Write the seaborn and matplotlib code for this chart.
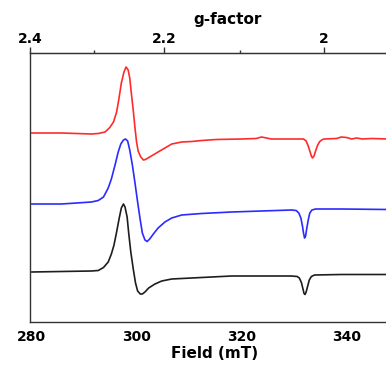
import numpy as np
import pandas as pd
import matplotlib
matplotlib.use("Agg")
import matplotlib.pyplot as plt
import seaborn as sns
from matplotlib.ticker import FixedLocator, FuncFormatter

# EPR spectra (field in mT, intensity in a.u., stacked)
field_red = [280.0, 285.7, 291.4, 292.7, 294.0, 294.9, 295.6, 296.2, 296.6, 297.1,
             297.6, 298.0, 298.4, 298.7, 299.0, 299.4, 299.7, 300.0, 300.3, 300.8,
             301.3, 301.7, 302.5, 304.1, 305.4, 306.7, 308.6, 310.5, 312.4, 315.2,
             320.0, 322.8, 323.8, 325.7, 329.5, 331.8, 332.3, 332.7, 333.0, 333.3,
             333.5, 333.8, 334.1, 334.5, 334.9, 335.4, 335.8, 338.1, 339.0, 340.0,
             341.0, 341.9, 343.0, 344.8, 347.8, 355.0]
int_red = [18.9, 18.9, 18.8, 18.85, 19.0, 19.45, 20.0, 21.0, 22.2, 23.9,
           25.0, 25.5, 25.2, 24.4, 22.9, 21.0, 19.4, 18.0, 17.1, 16.5,
           16.2, 16.25, 16.5, 17.0, 17.4, 17.8, 18.0, 18.05, 18.15, 18.25,
           18.3, 18.35, 18.5, 18.3, 18.3, 18.3, 18.1, 17.6, 17.1, 16.6,
           16.4, 16.6, 17.1, 17.7, 18.05, 18.25, 18.3, 18.35, 18.5, 18.45,
           18.3, 18.4, 18.3, 18.35, 18.3, 18.3]

field_blue = [280.0, 285.7, 291.4, 292.7, 293.7, 294.6, 295.2, 295.9, 296.5, 297.0,
              297.5, 297.9, 298.3, 298.7, 299.2, 299.7, 300.2, 300.7, 301.1, 301.6,
              302.0, 302.5, 303.2, 304.1, 305.4, 306.7, 308.6, 312.4, 318.1, 323.8,
              329.5, 330.4, 330.9, 331.3, 331.6, 331.8, 332.0, 332.2, 332.4, 332.7,
              333.0, 333.4, 334.1, 339.0, 347.8, 355.0]
int_blue = [11.8, 11.8, 12.0, 12.15, 12.5, 13.4, 14.3, 15.7, 17.0, 17.8,
            18.2, 18.3, 18.1, 17.2, 15.7, 13.9, 12.0, 10.2, 8.9, 8.2,
            8.05, 8.3, 8.8, 9.4, 10.0, 10.4, 10.7, 10.85, 11.0, 11.1,
            11.2, 11.15, 10.9, 10.4, 9.6, 8.9, 8.4, 8.6, 9.3, 10.2,
            10.9, 11.2, 11.3, 11.3, 11.25, 11.25]

field_black = [280.0, 285.7, 291.4, 292.7, 293.7, 294.6, 295.2, 295.7, 296.2, 296.7,
               297.1, 297.5, 297.8, 298.2, 298.5, 298.9, 299.4, 299.8, 300.2, 300.7,
               301.1, 301.6, 302.3, 303.5, 304.8, 306.7, 308.6, 312.4, 318.1, 323.8,
               329.5, 330.6, 331.0, 331.4, 331.7, 331.9, 332.1, 332.3, 332.6, 332.9,
               333.3, 333.9, 339.0, 347.8, 355.0]
int_black = [5.0, 5.05, 5.1, 5.15, 5.45, 6.0, 6.8, 7.7, 9.0, 10.4,
             11.4, 11.8, 11.5, 10.5, 8.9, 7.0, 5.2, 3.9, 3.1, 2.8,
             2.8, 3.0, 3.4, 3.8, 4.1, 4.3, 4.35, 4.45, 4.6, 4.6,
             4.6, 4.55, 4.4, 3.95, 3.3, 2.85, 2.75, 3.0, 3.6, 4.2,
             4.55, 4.7, 4.75, 4.75, 4.75]

g_major = [2.4, 2.2, 2.0]
g_minor = [2.3, 2.1]
freq_ghz = 9.398  # microwave frequency used for the g-factor axis

sns.set_style("white")
plt.rcParams["font.family"] = ["DejaVu Sans"]
plt.rcParams["font.weight"] = "bold"
plt.rcParams["text.color"] = "black"
plt.rcParams["xtick.color"] = "black"

fig = plt.figure(figsize=(3.86, 3.72), dpi=100)
ax = fig.add_axes([30 / 386, 50 / 372, 395.3 / 386, 269 / 372])

traces = [(field_red, int_red, "#ff2b2b"),
          (field_blue, int_blue, "#2b2bff"),
          (field_black, int_black, "#1e1e1e")]
for fx, fy, col in traces:
    df = pd.DataFrame({"Field": fx, "Intensity": fy})
    sns.lineplot(data=df, x="Field", y="Intensity", color=col, lw=1.2,
                 sort=False, estimator=None, ax=ax)

axis_col = "#333333"
ax.set_xlim(279.7, 355.0)
ax.set_ylim(0, 26.9)
ax.set_yticks([])
ax.set_ylabel("")
ax.set_xticks([280, 300, 320, 340])
ax.tick_params(axis="x", direction="out", length=4, width=1, pad=1.5,
               labelsize=10, color=axis_col, labelcolor="black")
for lab in ax.get_xticklabels():
    lab.set_fontweight("bold")
ax.set_xlabel("Field (mT)", fontsize=11, fontweight="bold", color="black")
ax.xaxis.label.set_va("baseline")
ax.xaxis.set_label_coords(185 / 395.3, -(357.7 - 322) / 269)
for side in ["left", "bottom", "top"]:
    ax.spines[side].set_color(axis_col)
    ax.spines[side].set_linewidth(1)
ax.spines["right"].set_visible(False)

k = 71.4477 * freq_ghz
sec = ax.secondary_xaxis("top", functions=(lambda b: k / b, lambda g: k / g))
sec.xaxis.set_major_locator(FixedLocator(g_major))
sec.xaxis.set_minor_locator(FixedLocator(g_minor))
sec.xaxis.set_major_formatter(FuncFormatter(lambda v, _: f"{v:g}"))
sec.tick_params(which="major", direction="out", length=4.3, width=1, pad=0.5,
                labelsize=10, color=axis_col, labelcolor="black")
sec.tick_params(which="minor", direction="out", length=2, width=1, color=axis_col)
for lab in sec.get_xticklabels():
    lab.set_fontweight("bold")
sec.spines["top"].set_color(axis_col)
ax.text(198 / 395.3, 1 + (53 - 24) / 269, "g-factor", transform=ax.transAxes,
        ha="center", va="baseline", fontsize=11, fontweight="bold", color="black")

fig.savefig("out.png", dpi=100)
